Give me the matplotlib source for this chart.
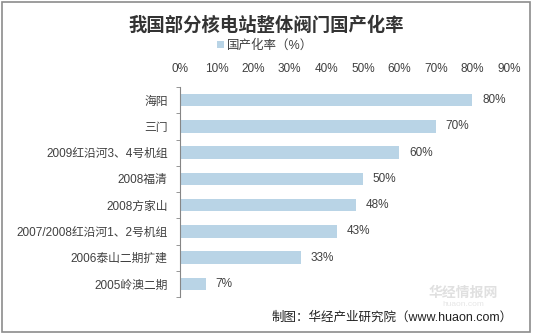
import numpy as np
import matplotlib.pyplot as plt
from matplotlib.patches import Rectangle
from matplotlib.ticker import FixedLocator

plt.rcParams['font.family'] = ['Liberation Sans', 'Noto Sans CJK SC', 'DejaVu Sans']

# data, top to bottom as shown
plants = ['海阳', '三门', '2009红沿河3、4号机组', '2008福清', '2008方家山',
          '2007/2008红沿河1、2号机组', '2006泰山二期扩建', '2005岭澳二期']
rate = [80, 70, 60, 50, 48, 43, 33, 7]
xticks = [0, 10, 20, 30, 40, 50, 60, 70, 80, 90]

bar_color = '#B9D4E6'
text_color = '#404040'

fig = plt.figure(figsize=(5.33, 3.36), dpi=100)
fig.patches.append(Rectangle((0.004, 0.012), 0.99, 0.982, transform=fig.transFigure,
                             fill=False, edgecolor='#8C8C8C', linewidth=1.2))

ax = fig.add_axes([0.338, 0.116, 0.617, 0.625])
y = np.arange(len(plants))[::-1]
ax.barh(y, rate, height=0.47, color=bar_color, label='国产化率（%）')
for yi, v in zip(y, rate):
    ax.text(v + 2.7, yi, '%d%%' % v, va='center', ha='left', fontsize=8.5, color=text_color)

ax.set_xlim(0, 90)
ax.set_ylim(-0.5, len(plants) - 0.5)
ax.xaxis.tick_top()
ax.set_xticks(xticks)
ax.set_xticklabels(['%d%%' % t for t in xticks])
ax.set_yticks(y)
ax.set_yticklabels(plants)
ax.yaxis.set_minor_locator(FixedLocator(np.arange(-0.5, len(plants), 1)))
ax.tick_params(axis='x', length=0, pad=9, labelsize=8.5, labelcolor=text_color)
ax.tick_params(axis='y', which='major', length=0, pad=9, labelsize=8.5, labelcolor=text_color)
ax.tick_params(axis='y', which='minor', length=3, color='#868686')
for s in ['top', 'right', 'bottom']:
    ax.spines[s].set_visible(False)
ax.spines['left'].set_color('#868686')

fig.text(0.5, 0.925, '我国部分核电站整体阀门国产化率', ha='center', va='center',
         fontsize=13.2, fontweight='bold', color='#333333',
         family=['Noto Sans CJK SC', 'DejaVu Sans'])
ax.legend(loc='center', bbox_to_anchor=(0.497, 0.864), bbox_transform=fig.transFigure,
          frameon=False, fontsize=9, handlelength=0.6, handleheight=0.6,
          handletextpad=0.2, labelcolor=text_color)

# watermark
fig.text(0.87, 0.128, '华经情报网', ha='center', va='center', fontsize=10,
         fontweight='bold', color='#E0E0E0')
fig.text(0.87, 0.093, 'huaon.com', ha='center', va='center', fontsize=6, color='#E6E6E6')

fig.text(0.962, 0.055, '制图：华经产业研究院（www.huaon.com）', ha='right', va='center',
         fontsize=9, color='#222222')

fig.savefig('out.png', dpi=100)
